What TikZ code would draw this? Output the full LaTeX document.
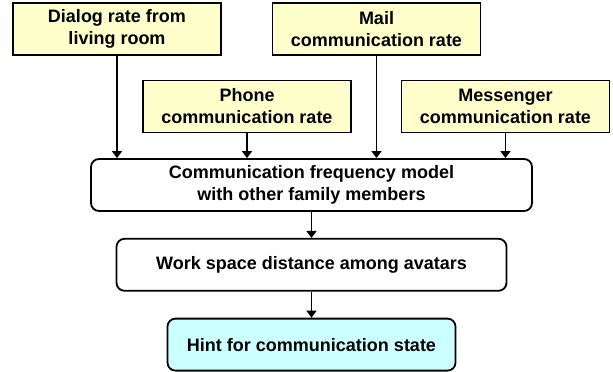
\documentclass[tikz,border=0pt]{standalone}
\usepackage{fontspec}
\setmainfont{Liberation Sans}
\usepackage{xcolor}
\definecolor{ratefill}{HTML}{FFFFCC}
\definecolor{hintfill}{HTML}{CCFFFF}
\usepackage{tikz}
\usetikzlibrary{arrows.meta, positioning}

\begin{document}
\begin{tikzpicture}[x=1pt, y=-1pt, >={Triangle[length=7pt,width=10pt]},
    boxtext/.style={font=\bfseries\fontsize{18}{22}\selectfont, align=center,
        line width=1.8pt, draw=black, minimum height=52pt, inner sep=0pt},
    ratebox/.style={boxtext, fill=ratefill, minimum width=208pt},
    stagebox/.style={boxtext, fill=white, rounded corners=8pt},
    hintbox/.style={stagebox, fill=hintfill},
    link/.style={->, line width=1.6pt}]

  \useasboundingbox (0,0) rectangle (613,372);

  \node[ratebox] (dialog) at (117,29) {Dialog rate from\\living room};
  \node[ratebox] (mail) at (376.5,29) {Mail\\communication rate};
  \node[ratebox] (phone) at (247,106.5) {Phone\\communication rate};
  \node[ratebox] (messenger) at (505.5,106.5) {Messenger\\communication rate};

  \node[stagebox, minimum width=441pt] (model) at (311.5,185)
    {Communication frequency model\\with other family members};
  \node[stagebox, minimum width=390pt, below=26pt of model] (work)
    {Work space distance among avatars};
  \node[hintbox, minimum width=288pt, below=26pt of work] (hint)
    {Hint for communication state};

  \draw[link] (dialog.south) -- (dialog.south |- model.north);
  \draw[link] (phone.south) -- (phone.south |- model.north);
  \draw[link] (mail.south) -- (mail.south |- model.north);
  \draw[link] (messenger.south) -- (messenger.south |- model.north);
  \draw[link] (model) -- (work);
  \draw[link] (work) -- (hint);

\end{tikzpicture}
\end{document}
